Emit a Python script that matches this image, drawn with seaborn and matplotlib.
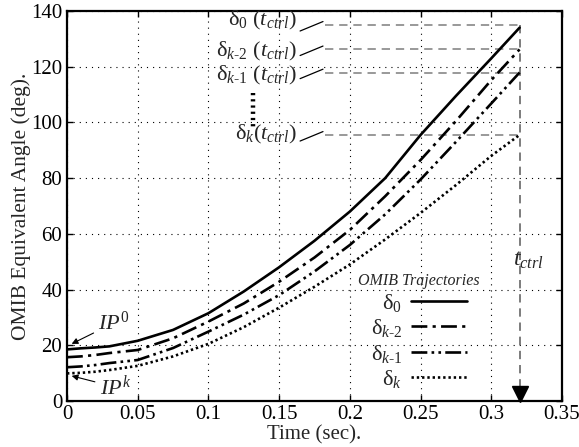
import numpy as np
import pandas as pd
import seaborn as sns
import matplotlib.pyplot as plt

# Simulation time (s) and OMIB equivalent angle trajectories (deg)
time = [0, 0.01, 0.02, 0.03, 0.05, 0.075, 0.1, 0.125, 0.15, 0.175, 0.2,
        0.225, 0.25, 0.275, 0.3, 0.32]
delta_0 = [18.5, 18.9, 19.2, 19.6, 21.6, 25.5, 31.5, 39.3, 48.0, 57.5, 68.0,
           80.0, 95.5, 109.5, 123.0, 134.0]
delta_k2 = [15.7, 16.0, 16.5, 17.2, 18.3, 22.5, 28.5, 35.0, 42.8, 51.5, 61.4,
            73.5, 86.5, 100.5, 115.2, 126.2]
delta_k1 = [12.1, 12.4, 12.9, 13.6, 14.7, 19.0, 24.9, 31.0, 38.0, 46.5, 56.0,
            67.0, 79.5, 93.0, 106.8, 117.9]
delta_k = [9.9, 10.1, 10.5, 11.1, 12.6, 16.0, 20.5, 26.5, 33.5, 41.0, 49.0,
           58.0, 67.5, 77.5, 88.0, 95.5]

series_labels = [r'δ$_{\mathit{0}}$', r'δ$_{\mathit{k}\text{-}\mathit{2}}$',
                 r'δ$_{\mathit{k}\text{-}\mathit{1}}$', r'δ$_{\mathit{k}}$']
end_labels = [r'δ$_{\mathit{0}}$ ($t_{ctrl}$)',
              r'δ$_{\mathit{k}\text{-}\mathit{2}}$ ($t_{ctrl}$)',
              r'δ$_{\mathit{k}\text{-}\mathit{1}}$ ($t_{ctrl}$)',
              r'δ$_{\mathit{k}}$($t_{ctrl}$)']
x_ticks = [0, 0.05, 0.1, 0.15, 0.2, 0.25, 0.3, 0.35]
x_tick_labels = ['0', '0.05', '0.1', '0.15', '0.2', '0.25', '0.3', '0.35']
y_ticks = [0, 20, 40, 60, 80, 100, 120, 140]
t_ctrl = 0.32

sns.set_theme(style='ticks')
plt.rcParams['font.family'] = ['Liberation Serif', 'DejaVu Serif']
plt.rcParams['mathtext.fontset'] = 'custom'
plt.rcParams['mathtext.rm'] = 'Liberation Serif'
plt.rcParams['mathtext.it'] = 'Liberation Serif:italic'
plt.rcParams['mathtext.cal'] = 'Liberation Serif:italic'

fig = plt.figure(figsize=(5.79, 4.47), dpi=100)
ax = fig.add_axes([0.1157, 0.103, 0.855, 0.8725])

df = pd.DataFrame({'time': time, 'd0': delta_0, 'dk2': delta_k2,
                   'dk1': delta_k1, 'dk': delta_k})
styles = ['-', (0, (6, 2, 1.2, 2)), (0, (6, 1.6, 1, 1.6, 1, 1.6)), (0, (0.9, 1.1))]
cols = ['d0', 'dk2', 'dk1', 'dk']
for col, ls, lab in zip(cols, styles, series_labels):
    sns.lineplot(data=df, x='time', y=col, ax=ax, color='black', lw=1.9,
                 linestyle=ls, label=lab)

# final-value guide lines
finals = [delta_0[-1] + 1, delta_k2[-1], delta_k1[-1], delta_k[-1]]
for v in finals:
    ax.plot([0.1825, t_ctrl], [v, v], color='#888888', lw=1.2,
            linestyle=(0, (5, 3.5)), zorder=1)
ax.plot([t_ctrl, t_ctrl], [finals[0], 3], color='#666666', lw=1.2,
        linestyle=(0, (5, 3.5)), zorder=1)
ax.plot([t_ctrl], [2.4], marker='v', color='black', markersize=11, zorder=5,
        clip_on=False)

# value labels with leader strokes
label_y = [136.4, 125.4, 117.0, 95.5]
for txt, ly, v in zip(end_labels, label_y, finals):
    ax.text(0.1625, ly, txt, ha='right', va='center', fontsize=16)
    ax.plot([0.1648, 0.181], [v - 2.2, v + 1.2], color='black', lw=0.9)
ax.plot([0.1317, 0.1317], [110.5, 98.5], color='black', lw=3.2,
        linestyle=(0, (0.5, 0.9)), solid_capstyle='round')

ax.text(0.3155, 50.5, '$t_{ctrl}$', fontsize=17, ha='left', va='center')

# initial-point annotations
ax.annotate('$IP^{0}$', xy=(0.0033, 20.5), xytext=(0.022, 28.0), fontsize=16,
            ha='left', va='center',
            arrowprops=dict(arrowstyle='-|>', color='black', lw=0.8,
                            shrinkA=1, shrinkB=0, mutation_scale=9))
ax.annotate('$IP^{k}$', xy=(0.0033, 9.0), xytext=(0.023, 5.0), fontsize=16,
            ha='left', va='center',
            arrowprops=dict(arrowstyle='-|>', color='black', lw=0.8,
                            shrinkA=1, shrinkB=0, mutation_scale=9))

ax.set_xlim(0, 0.35)
ax.set_ylim(0, 140)
ax.set_xticks(x_ticks)
ax.set_xticklabels(x_tick_labels)
ax.set_yticks(y_ticks)
ax.tick_params(direction='in', top=True, right=True, labelsize=15, length=4,
               width=1, colors='black')
ax.tick_params(axis='x', pad=3)
ax.tick_params(axis='y', pad=3.5)
ax.grid(True, color='black', lw=0.8, linestyle=(0, (1, 4.5)))
for s in ax.spines.values():
    s.set_linewidth(1.6)
    s.set_color('black')
ax.set_xlabel('Time (sec).', fontsize=15, labelpad=0.5)
ax.set_ylabel('OMIB Equivalent Angle (deg).', fontsize=15.5, labelpad=0)

leg = ax.legend(title='OMIB Trajectories', frameon=False, markerfirst=False,
                fontsize=16, handlelength=2.5, labelspacing=0.15,
                handletextpad=0.4, loc='lower left',
                bbox_to_anchor=(0.565, 0.0), borderaxespad=0.1)
leg.get_title().set_fontsize(11.5)
leg.get_title().set_fontstyle('italic')
for t in leg.get_texts():
    t.set_ha('right')

fig.savefig('out.png', dpi=100)
